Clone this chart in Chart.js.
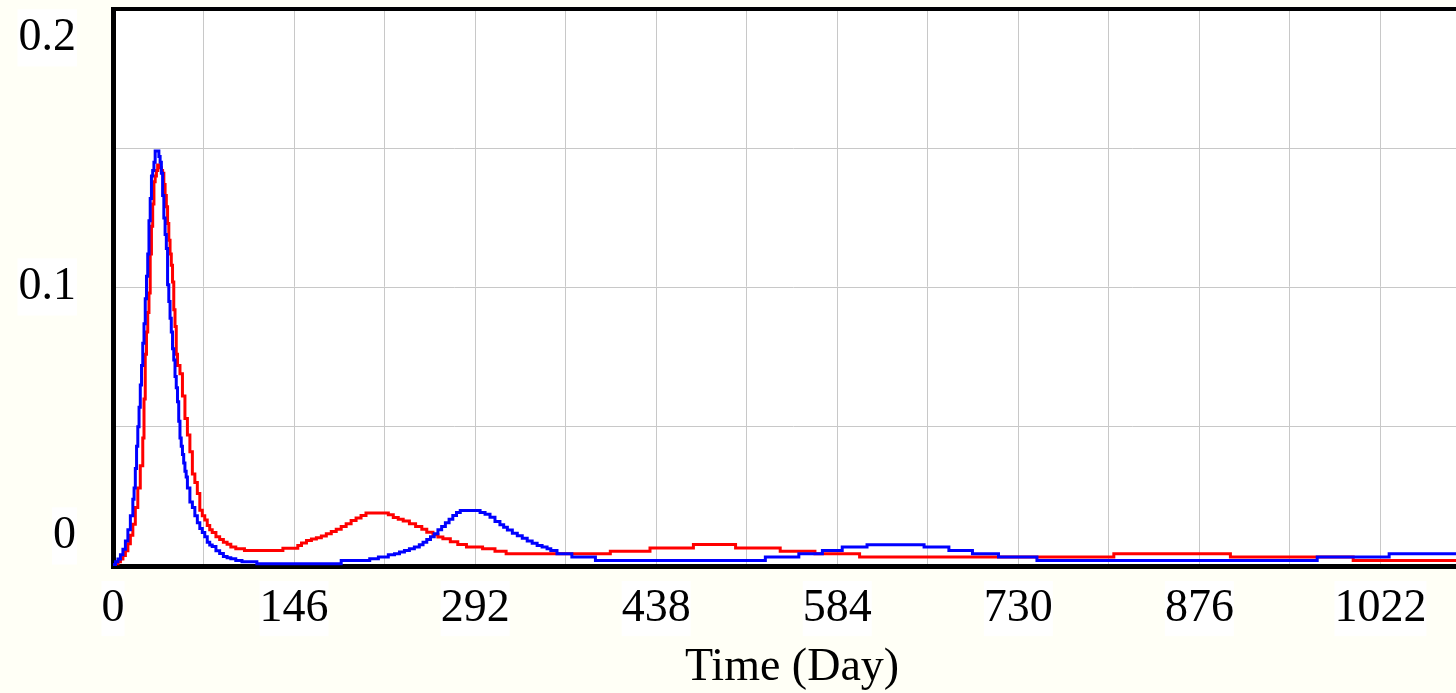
<!DOCTYPE html>
<html>
<head>
<meta charset="utf-8">
<script src="https://cdn.jsdelivr.net/npm/chart.js@4.4.1/dist/chart.umd.min.js"></script>
<style>
  html, body { margin: 0; padding: 0; background: #fffff6; overflow: hidden; }
  #wrap { width: 1471px; height: 698px; }
</style>
</head>
<body>
<div id="wrap"><canvas id="dayChart" width="1471" height="698"></canvas></div>
<script>
// day -> value (each value holds until the next day listed)
const blueDays = [0, 2, 4, 6, 8, 10, 12, 14, 16, 17, 18, 19, 20, 21, 22, 23, 24, 25, 26, 27, 28, 29, 30, 31, 32, 33, 34, 35, 36, 37, 38, 39, 40, 41, 42, 43, 44, 45, 46, 47, 48, 49, 50, 51, 52, 53, 54, 55, 56, 57, 58, 59, 60,
  62, 64, 66, 68, 70, 72, 74, 76, 78, 80, 83, 86, 89, 92, 95, 99, 104, 116, 184,
  207, 214, 222, 227, 231, 235, 239, 243, 247, 250, 253, 256, 259, 262, 265, 268, 271, 274, 277, 280,
  296, 300, 304, 308, 312, 315, 318, 322, 326, 330, 334, 338, 342, 346, 350, 353, 358, 370, 389,
  526, 553, 572, 588, 608, 654, 674, 693, 714, 745, 971, 1029, 1095];
const blueValues = [0.0005, 0.0015, 0.0025, 0.004, 0.006, 0.009, 0.013, 0.018, 0.024,
  0.028, 0.035, 0.043, 0.050, 0.057, 0.065, 0.072, 0.080, 0.087, 0.096, 0.104, 0.112, 0.124, 0.132, 0.140, 0.142, 0.145, 0.149, 0.149, 0.149,
  0.147, 0.145, 0.141, 0.133, 0.125, 0.119, 0.114, 0.101, 0.095, 0.089, 0.084, 0.078, 0.074, 0.068, 0.064, 0.059, 0.052, 0.046, 0.043, 0.040,
  0.037, 0.034, 0.032, 0.028,
  0.023, 0.021, 0.018, 0.0155, 0.0135, 0.012, 0.0105, 0.0085, 0.0075, 0.007,
  0.0055, 0.0045, 0.0034, 0.003, 0.0026, 0.002, 0.0015, 0.0008,
  0.0020, 0.0026, 0.0032, 0.0040, 0.0044, 0.0050, 0.0056, 0.0062, 0.0068, 0.0076, 0.0085, 0.0095, 0.0105, 0.0116, 0.013, 0.0142, 0.0155, 0.0168, 0.0181, 0.0192, 0.0199,
  0.0192, 0.0186, 0.0175, 0.0160, 0.0148, 0.0139, 0.0129, 0.0118, 0.0109, 0.0100, 0.0090, 0.0082, 0.0074, 0.0068, 0.0062, 0.0056, 0.0044, 0.0032, 0.0020,
  0.0032, 0.0044, 0.0056, 0.0068, 0.0076, 0.0068, 0.0056, 0.0044, 0.0032, 0.0020, 0.0032, 0.0044, 0.0044];

const redDays = [0, 2, 4, 6, 8, 10, 12, 14, 16, 18, 20, 22, 24,
  25, 26, 27, 28, 29, 30, 31, 32, 33, 34, 35, 36, 37, 38, 39, 40, 41, 42, 43, 44, 45, 46, 47, 48, 49, 50, 51, 52,
  54, 56, 58, 60, 62, 64, 66, 68, 70, 72, 74, 76, 78, 80,
  83, 86, 89, 92, 95, 99, 106,
  137, 149, 152, 156, 160, 164, 168, 172, 176, 180, 184, 188, 192, 196, 200, 204,
  222, 226, 230, 234, 239, 244, 249, 253, 258, 262, 266, 272, 278, 285,
  298, 308, 317,
  401, 433, 468, 502, 538, 566, 602, 807, 901, 1000, 1095];
const redValues = [0.0003, 0.0008, 0.0015, 0.0025, 0.0038, 0.0055, 0.008, 0.011, 0.015, 0.021, 0.028, 0.036, 0.046,
  0.060, 0.076, 0.084, 0.091, 0.098, 0.112, 0.122, 0.130, 0.138, 0.140,
  0.142, 0.144, 0.144, 0.143, 0.142, 0.141, 0.137, 0.133, 0.129, 0.123,
  0.117, 0.112, 0.108, 0.102, 0.092, 0.086, 0.076, 0.072,
  0.069, 0.061, 0.053, 0.047, 0.041, 0.033, 0.030, 0.026, 0.020, 0.018, 0.0165, 0.0145, 0.013, 0.012,
  0.0105, 0.0095, 0.0085, 0.0078, 0.0068, 0.0062, 0.0056,
  0.0064, 0.0074, 0.0083, 0.0092, 0.0097, 0.0101, 0.0108, 0.0116, 0.0124, 0.0132, 0.0142, 0.0152, 0.0163, 0.0172, 0.0181, 0.0190,
  0.0184, 0.0174, 0.0168, 0.0162, 0.0152, 0.0142, 0.0132, 0.0121, 0.0112, 0.0104, 0.0098, 0.0087, 0.0077, 0.0068,
  0.0062, 0.0053, 0.0044,
  0.0053, 0.0065, 0.0077, 0.0065, 0.0053, 0.0044, 0.0032, 0.0044, 0.0032, 0.0020, 0.0020];

const xTickLabels = [0, 146, 292, 438, 584, 730, 876, 1022];
const yTickLabels = ['0', '0.1', '0.2'];
const yTickValues = [0, 0.1, 0.2];

const serif = 'Liberation Serif';
const gridColor = '#c8c8c8';

const whiteArea = {
    id: 'whiteArea',
    beforeDraw(chart) {
        const a = chart.chartArea;
        const ctx = chart.ctx;
        ctx.save();
        ctx.fillStyle = '#ffffff';
        ctx.fillRect(a.left, a.top, a.right - a.left, a.bottom - a.top);
        ctx.restore();
    }
};

// keep label overhang from pushing the plot area around
const noPad = s => {
    s.paddingTop = 0;
    s.paddingBottom = 0;
    s.paddingLeft = 0;
    s.paddingRight = 0;
};

const toPoints = (days, values) => days.map((d, i) => ({ x: d, y: values[i] }));

const data = {
    datasets: [{
        label: 'Blue run',
        data: toPoints(blueDays, blueValues),
        borderColor: '#0000ff',
        borderWidth: 3,
        pointRadius: 0,
        stepped: 'before',
        fill: false
    }, {
        label: 'Red run',
        data: toPoints(redDays, redValues),
        borderColor: '#ff0000',
        borderWidth: 3,
        pointRadius: 0,
        stepped: 'before',
        fill: false
    }]
};

const config = {
    type: 'line',
    data: data,
    plugins: [whiteArea],
    options: {
        responsive: false,
        animation: false,
        layout: { padding: 0 },
        plugins: {
            legend: { display: false },
            tooltip: { enabled: false }
        },
        scales: {
            x: {
                type: 'linear',
                position: 'bottom',
                min: 0,
                max: 1095,
                afterFit: s => { s.height = 132; noPad(s); },
                afterBuildTicks: s => {
                    const t = [];
                    for (let d = 0; d <= 1095; d += 73) t.push({ value: d });
                    s.ticks = t;
                },
                grid: { color: gridColor, lineWidth: 1, drawTicks: false },
                border: { color: '#000000', width: 5 },
                ticks: {
                    autoSkip: false,
                    maxRotation: 0,
                    padding: 15,
                    color: '#000000',
                    font: { family: serif, size: 46 },
                    showLabelBackdrop: true,
                    backdropColor: '#ffffff',
                    backdropPadding: 0,
                    callback: v => xTickLabels.includes(v) ? String(v) : ''
                },
                title: {
                    display: true,
                    text: 'Time (Day)',
                    color: '#000000',
                    font: { family: serif, size: 46 },
                    padding: { top: 0, bottom: 2 }
                }
            },
            xTop: {
                type: 'linear',
                position: 'top',
                min: 0,
                max: 1095,
                afterFit: s => { s.height = 9; noPad(s); },
                grid: { display: false, drawTicks: false },
                ticks: { display: false },
                border: { color: '#000000', width: 4 }
            },
            y: {
                type: 'linear',
                position: 'left',
                weight: 0,
                min: 0,
                max: 0.2,
                afterFit: s => { s.width = 0; noPad(s); },
                afterBuildTicks: s => {
                    s.ticks = [0, 0.05, 0.1, 0.15, 0.2].map(v => ({ value: v }));
                },
                grid: { color: gridColor, lineWidth: 1, drawTicks: false },
                border: { color: '#000000', width: 5 },
                ticks: { display: false }
            },
            yText: {
                type: 'linear',
                position: 'left',
                weight: 1,
                min: -0.01205,
                max: 0.2116,
                afterFit: s => { s.width = 113; noPad(s); },
                afterBuildTicks: s => {
                    s.ticks = yTickValues.map(v => ({ value: v }));
                },
                grid: { display: false, drawTicks: false },
                border: { display: false },
                ticks: {
                    padding: 37,
                    color: '#000000',
                    font: { family: serif, size: 46 },
                    showLabelBackdrop: true,
                    backdropColor: '#ffffff',
                    backdropPadding: 1,
                    callback: (v, i) => yTickLabels[i]
                }
            }
        }
    }
};

new Chart(document.getElementById('dayChart'), config);
</script>
</body>
</html>
